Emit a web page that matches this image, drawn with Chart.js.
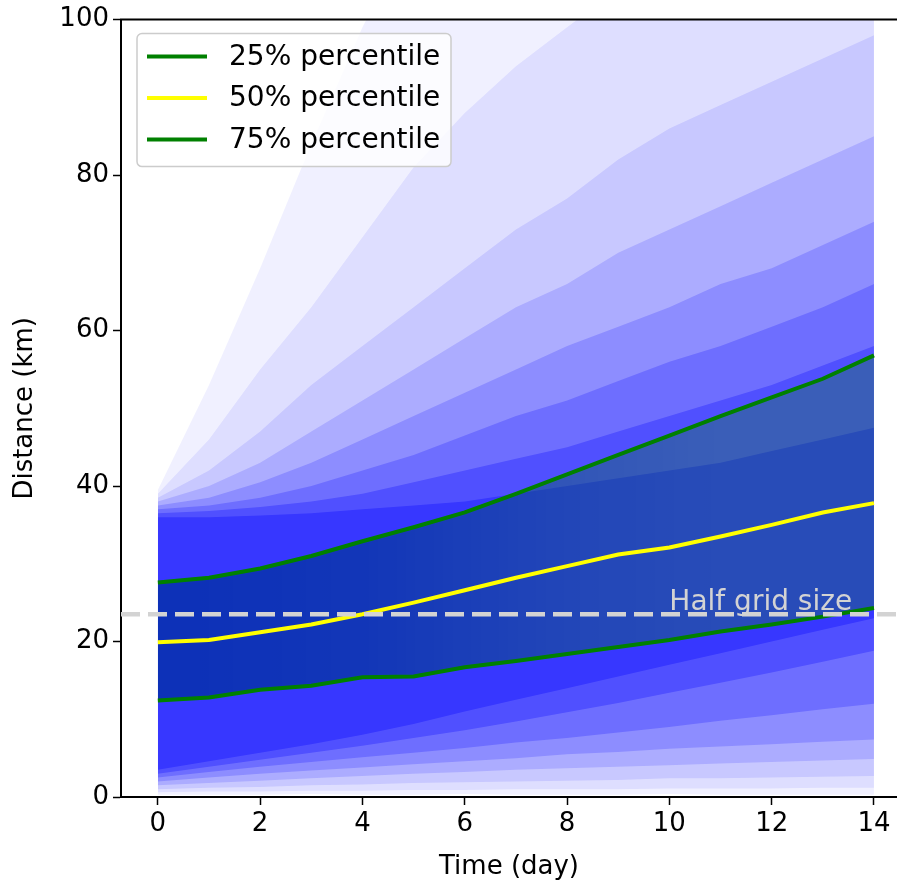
<!DOCTYPE html>
<html>
<head>
<meta charset="utf-8">
<script src="https://cdn.jsdelivr.net/npm/chart.js@4/dist/chart.umd.min.js"></script>
<style>
  html, body { margin: 0; padding: 0; background: #fff; }
  #wrap { width: 897px; height: 885px; }
</style>
</head>
<body>
<div id="wrap"><canvas id="chart" width="897" height="885"></canvas></div>
<script>
// days on the x axis
var days = [0, 1, 2, 3, 4, 5, 6, 7, 8, 9, 10, 11, 12, 13, 14];

// percentile curves (km)
var p25 = [12.4, 12.8, 13.8, 14.3, 15.4, 15.5, 16.7, 17.5, 18.4, 19.3, 20.2, 21.3, 22.2, 23.2, 24.3];
var p50 = [19.9, 20.2, 21.2, 22.2, 23.5, 25.0, 26.6, 28.2, 29.7, 31.2, 32.1, 33.5, 35.0, 36.6, 37.8];
var p75 = [27.6, 28.2, 29.4, 31.0, 32.9, 34.7, 36.6, 39.0, 41.5, 44.0, 46.5, 49.0, 51.4, 53.8, 56.8];

// envelopes of the trajectory cloud, read by eye, outermost first
var cloudLo1 = [0.3, 0.3, 0.3, 0.4, 0.3, 0.3, 0.4, 0.3, 0.3, 0.3, 0.4, 0.3, 0.3, 0.3, 0.3];
var cloudHi1 = [39.5, 53, 68, 84, 99, 112, 120, 125, 130, 130, 135, 135, 140, 140, 140];
var cloudLo2 = [0.6, 0.7, 0.7, 0.8, 0.8, 0.9, 0.9, 1.0, 1.0, 1.0, 1.1, 1.1, 1.1, 1.2, 1.2];
var cloudHi2 = [39, 46, 55, 63, 72, 81, 88, 94, 99, 104, 108, 111, 114, 115, 116];
var cloudLo3 = [1.0, 1.2, 1.3, 1.5, 1.6, 1.8, 1.9, 2.0, 2.1, 2.2, 2.4, 2.4, 2.5, 2.6, 2.7];
var cloudHi3 = [38.5, 42, 47, 53, 58, 63, 68, 73, 77, 82, 86, 89, 92, 95, 98];
var cloudLo4 = [1.5, 1.8, 2.1, 2.4, 2.7, 3.0, 3.2, 3.5, 3.7, 3.9, 4.1, 4.3, 4.5, 4.7, 4.9];
var cloudHi4 = [38, 40, 43, 47, 51, 55, 59, 63, 66, 70, 73, 76, 79, 82, 85];
var cloudLo5 = [2.0, 2.5, 3.0, 3.4, 3.8, 4.2, 4.6, 5.0, 5.5, 5.8, 6.2, 6.5, 6.8, 7.1, 7.4];
var cloudHi5 = [37.5, 38.5, 40.5, 43, 46, 49, 52, 55, 58, 60.5, 63, 66, 68, 71, 74];
var cloudLo6 = [2.5, 3.2, 3.9, 4.5, 5.1, 5.7, 6.3, 7.0, 7.6, 8.3, 9.0, 9.8, 10.5, 11.3, 12.0];
var cloudHi6 = [37, 37.5, 38.5, 40, 42, 44, 46.5, 49, 51, 53.5, 56, 58, 60.5, 63, 66];
var cloudLo7 = [3.0, 3.9, 4.8, 5.7, 6.6, 7.6, 8.6, 9.7, 10.9, 12.1, 13.4, 14.7, 16.0, 17.4, 18.8];
var cloudHi7 = [36.5, 36.8, 37.3, 38, 39, 40.5, 42, 43.5, 45, 47, 49, 51, 53, 55.5, 58];
var cloudLo8 = [3.5, 4.6, 5.7, 6.8, 8.0, 9.4, 11.0, 12.5, 14.0, 15.5, 17.0, 18.5, 20.0, 21.5, 23.0];
var cloudHi8 = [36, 36, 36.2, 36.5, 37, 37.5, 38, 39, 40, 41, 42, 43, 44.5, 46, 47.5];
var cloudAlpha = [0.06, 0.08, 0.10, 0.14, 0.18, 0.22, 0.28, 0.32];

// extra density inside the quartile band, strongest on the first days
var coreDays = [0, 4, 8, 11];
var coreAlpha = [0.7, 0.55, 0.15, 0];

var halfGrid = 23.5;
var halfGridLabel = 'Half grid size';
var legendLabels = ['25% percentile', '50% percentile', '75% percentile'];
var xTicks = [0, 2, 4, 6, 8, 10, 12, 14];
var yTicks = [0, 20, 40, 60, 80, 100];

var FONT = '"DejaVu Sans", sans-serif';
var GREEN = '#008000';
var YELLOW = '#ffff00';
var NONE = 'rgba(0,0,0,0)';

function pts(vals) {
    return days.map(function (d, i) { return { x: d, y: vals[i] }; });
}

function coreFill(context) {
    var chart = context.chart;
    if (!chart.chartArea) return NONE;
    var xs = chart.scales.x;
    var x0 = xs.getPixelForValue(coreDays[0]);
    var x1 = xs.getPixelForValue(coreDays[coreDays.length - 1]);
    var g = chart.ctx.createLinearGradient(x0, 0, x1, 0);
    coreDays.forEach(function (d, i) {
        g.addColorStop((d - coreDays[0]) / (coreDays[coreDays.length - 1] - coreDays[0]),
            'rgba(0, 0, 255, ' + coreAlpha[i] + ')');
    });
    return g;
}

var datasets = [
    { label: legendLabels[1], data: pts(p50), borderColor: YELLOW, borderWidth: 4, order: 1 },
    { label: legendLabels[0], data: pts(p25), borderColor: GREEN, borderWidth: 4, order: 2 },
    { label: legendLabels[2], data: pts(p75), borderColor: GREEN, borderWidth: 4, order: 3,
      fill: { target: 1 }, backgroundColor: 'rgba(0, 128, 0, 0.28)' },
    { label: '', data: [{ x: -0.72, y: halfGrid }, { x: 14.45, y: halfGrid }],
      borderColor: '#d3d3d3', borderWidth: 4.5, borderDash: [19, 8], order: 0 },
    { label: '', data: pts(p75), borderColor: NONE, borderWidth: 1, order: 5,
      fill: { target: 1 }, backgroundColor: coreFill }
];

var clouds = [
    [cloudLo1, cloudHi1], [cloudLo2, cloudHi2], [cloudLo3, cloudHi3], [cloudLo4, cloudHi4],
    [cloudLo5, cloudHi5], [cloudLo6, cloudHi6], [cloudLo7, cloudHi7], [cloudLo8, cloudHi8]
];
clouds.forEach(function (c, k) {
    var loIndex = datasets.length;
    datasets.push({ label: '', data: pts(c[0]), borderColor: NONE, borderWidth: 1, order: 40 - k * 2 });
    datasets.push({ label: '', data: pts(c[1]), borderColor: NONE, borderWidth: 1, order: 39 - k * 2,
        fill: { target: loIndex }, backgroundColor: 'rgba(0, 0, 255, ' + cloudAlpha[k] + ')' });
});

// top spine, annotation and the boxed legend
var extras = {
    id: 'extras',
    afterDatasetsDraw: function (chart) {
        var ctx = chart.ctx, x = chart.scales.x, y = chart.scales.y;
        ctx.save();
        ctx.font = '28px ' + FONT;
        ctx.fillStyle = '#d3d3d3';
        ctx.textBaseline = 'alphabetic';
        ctx.textAlign = 'left';
        ctx.fillText(halfGridLabel, x.getPixelForValue(10), y.getPixelForValue(24));
        ctx.restore();
    },
    afterDraw: function (chart) {
        var ctx = chart.ctx, a = chart.chartArea;
        ctx.save();
        ctx.strokeStyle = '#000';
        ctx.lineWidth = 2;
        ctx.beginPath();
        ctx.moveTo(a.left - 1, a.top);
        ctx.lineTo(a.right, a.top);
        ctx.stroke();

        var bx = a.left + 16, by = a.top + 14, bw = 314, bh = 133;
        ctx.fillStyle = 'rgba(255,255,255,0.8)';
        ctx.strokeStyle = '#cccccc';
        ctx.lineWidth = 1.5;
        ctx.beginPath();
        ctx.roundRect(bx, by, bw, bh, 5);
        ctx.fill();
        ctx.stroke();

        var colors = [GREEN, YELLOW, GREEN];
        ctx.font = '28px ' + FONT;
        ctx.textBaseline = 'middle';
        ctx.textAlign = 'left';
        legendLabels.forEach(function (lab, i) {
            var cy = by + 23 + i * 41.5;
            ctx.strokeStyle = colors[i];
            ctx.lineWidth = 4;
            ctx.beginPath();
            ctx.moveTo(bx + 10, cy);
            ctx.lineTo(bx + 70, cy);
            ctx.stroke();
            ctx.fillStyle = '#000';
            ctx.fillText(lab, bx + 92, cy + 1);
        });
        ctx.restore();
    }
};

new Chart(document.getElementById('chart'), {
    type: 'line',
    data: { datasets: datasets },
    options: {
        responsive: false,
        animation: false,
        events: [],
        layout: { padding: { top: 17, right: 0, left: 0, bottom: 0 } },
        elements: { point: { radius: 0 }, line: { tension: 0 } },
        plugins: { legend: { display: false }, tooltip: { enabled: false } },
        scales: {
            x: {
                type: 'linear', min: -0.72, max: 14.45,
                afterBuildTicks: function (s) { s.ticks = xTicks.map(function (v) { return { value: v }; }); },
                afterFit: function (s) { s.height = 88; },
                grid: { display: true, drawOnChartArea: false, drawTicks: true, tickLength: 8, tickColor: '#000', tickWidth: 1.5 },
                border: { display: true, color: '#000', width: 2 },
                ticks: { color: '#000', font: { family: FONT, size: 26 }, padding: 4, maxRotation: 0 },
                title: { display: true, text: 'Time (day)', color: '#000', font: { family: FONT, size: 26 }, padding: { top: 0, bottom: 2 } }
            },
            y: {
                type: 'linear', min: 0, max: 100,
                afterBuildTicks: function (s) { s.ticks = yTicks.map(function (v) { return { value: v }; }); },
                afterFit: function (s) { s.width = 121; },
                grid: { display: true, drawOnChartArea: false, drawTicks: true, tickLength: 8, tickColor: '#000', tickWidth: 1.5 },
                border: { display: true, color: '#000', width: 2 },
                ticks: { color: '#000', font: { family: FONT, size: 26 }, padding: 4 },
                title: { display: true, text: 'Distance (km)', color: '#000', font: { family: FONT, size: 26 }, padding: { top: 10, bottom: 0 } }
            }
        }
    },
    plugins: [extras]
});
</script>
</body>
</html>
